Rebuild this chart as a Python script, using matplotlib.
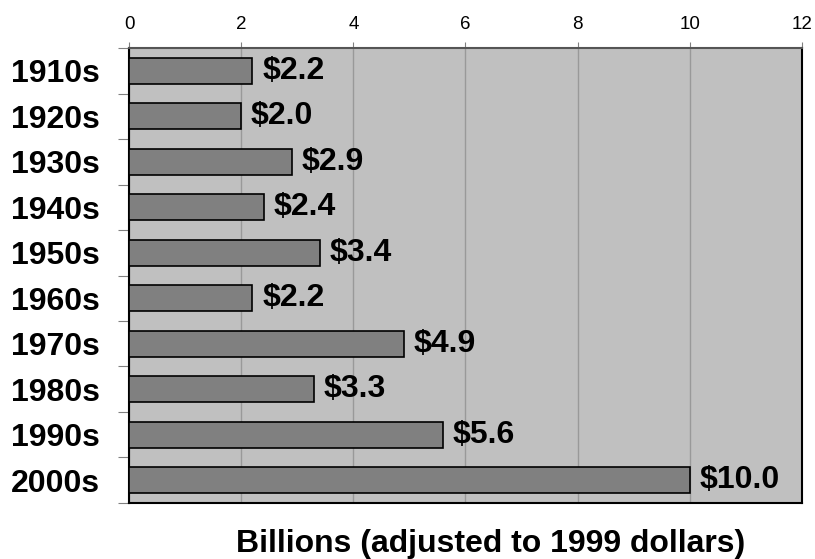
import numpy as np
import matplotlib.pyplot as plt

decades = ['1910s', '1920s', '1930s', '1940s', '1950s',
           '1960s', '1970s', '1980s', '1990s', '2000s']
billions = [2.2, 2.0, 2.9, 2.4, 3.4, 2.2, 4.9, 3.3, 5.6, 10.0]
xticks = [0, 2, 4, 6, 8, 10, 12]

plt.rcParams['font.family'] = ['Liberation Sans', 'DejaVu Sans']


def main():
    fig = plt.figure(figsize=(8.15, 5.59), dpi=100)
    ax = fig.add_axes([0.1583, 0.1002, 0.8257, 0.8139])
    ax.set_facecolor('#c0c0c0')

    y = np.arange(len(decades))
    ax.barh(y, billions, height=0.58, color='#808080',
            edgecolor='black', linewidth=1.2, zorder=3)

    for yi, v in zip(y, billions):
        ax.annotate(f'${v:.1f}', (v, yi), xytext=(7, 0),
                    textcoords='offset points', va='center', ha='left',
                    fontsize=23, fontweight='bold', zorder=4)

    ax.set_xlim(0, 12)
    ax.set_ylim(len(decades) - 0.5, -0.5)
    ax.set_xticks(xticks)
    ax.xaxis.tick_top()
    ax.tick_params(axis='x', which='major', top=True, bottom=False,
                   length=4.5, width=0.8, color='#808080', labelsize=13.5, pad=6)

    # category labels at centres, tick marks at the boundaries
    ax.set_yticks(y)
    ax.set_yticklabels(decades, fontsize=23, fontweight='bold')
    ax.set_yticks(np.arange(len(decades) + 1) - 0.5, minor=True)
    ax.tick_params(axis='y', which='major', length=0, pad=21)
    ax.tick_params(axis='y', which='minor', length=8, width=0.8, color='#808080')

    ax.grid(axis='x', color='#999999', linewidth=1.0, zorder=0)
    ax.set_axisbelow(True)

    for side in ['left', 'right', 'bottom']:
        ax.spines[side].set_color('black')
        ax.spines[side].set_linewidth(1.5)
    ax.spines['top'].set_color('#555555')
    ax.spines['top'].set_linewidth(1.5)

    ax.set_xlabel('Billions (adjusted to 1999 dollars)', fontsize=23,
                  fontweight='bold')
    ax.xaxis.set_label_position('bottom')
    ax.xaxis.set_label_coords(0.537, -0.058)

    fig.savefig('out.png', dpi=100)


if __name__ == '__main__':
    main()
